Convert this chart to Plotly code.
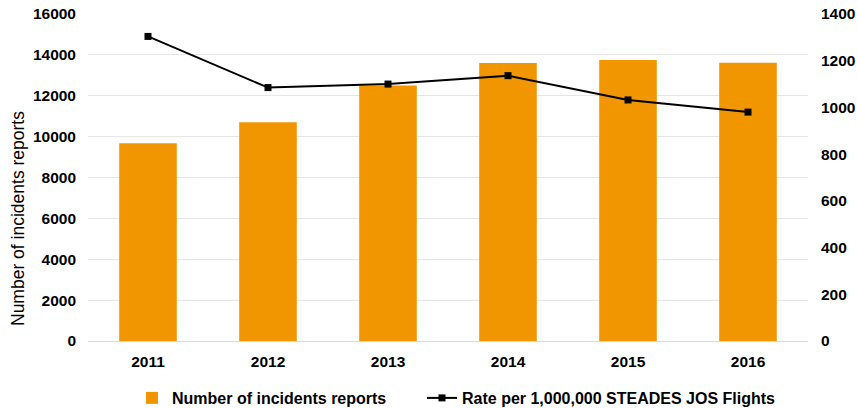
import plotly.graph_objects as go

years = ["2011", "2012", "2013", "2014", "2015", "2016"]
incidents = [9680, 10700, 12500, 13600, 13750, 13620]
rate = [1304, 1085, 1100, 1136, 1032, 980]

ORANGE = "#F29600"
FONT = "Liberation Sans, Arial, sans-serif"
W, H = 858, 408

fig = go.Figure()
fig.add_trace(go.Bar(
    x=years, y=incidents, name="Number of incidents reports",
    marker=dict(color=ORANGE, line=dict(width=0)),
    yaxis="y", legend="legend",
))
fig.add_trace(go.Scatter(
    x=years, y=rate, name="Rate per 1,000,000 STEADES JOS Flights",
    mode="lines+markers",
    line=dict(color="#000000", width=2),
    marker=dict(symbol="square", size=7, color="#000000"),
    yaxis="y2", legend="legend2",
))

tickfont = dict(family=FONT, size=15.5, color="#000000", weight="bold")
legfont = dict(family=FONT, size=16, color="#000000", weight="bold")

fig.update_layout(
    width=W, height=H,
    margin=dict(l=88, r=50, t=14, b=67, autoexpand=False),
    paper_bgcolor="white", plot_bgcolor="white",
    font=dict(family=FONT, size=14, color="#000000"),
    bargap=0.52,
    showlegend=True,
    legend=dict(
        orientation="h",
        xref="container", x=132 / W, xanchor="left",
        yref="container", y=1 - 398 / H, yanchor="middle",
        font=legfont, itemwidth=30,
    ),
    legend2=dict(
        orientation="h",
        xref="container", x=422 / W, xanchor="left",
        yref="container", y=1 - 398 / H, yanchor="middle",
        font=legfont, itemwidth=30,
    ),
    xaxis=dict(
        type="category", automargin=False,
        showgrid=False, showline=True, linecolor="#D9D9D9", linewidth=1,
        ticks="", tickfont=tickfont, ticklabelstandoff=6,
    ),
    yaxis=dict(
        range=[0, 16000], dtick=2000, tickformat="d", automargin=False,
        showgrid=True, gridcolor="#E6E6E6", gridwidth=1,
        zeroline=False, showline=False, ticks="",
        tickfont=tickfont, ticklabelstandoff=11,
    ),
    yaxis2=dict(
        overlaying="y", side="right", automargin=False,
        range=[0, 1400], dtick=200, tickformat="d",
        showgrid=False, zeroline=False, showline=False, ticks="",
        tickfont=tickfont, ticklabelstandoff=12,
    ),
    annotations=[dict(
        text="Number of incidents reports",
        xref="paper", yref="paper",
        x=(18 - 88) / (W - 88 - 50), y=(H - 67 - 219) / (H - 14 - 67),
        xanchor="center", yanchor="middle", textangle=-90, showarrow=False,
        font=dict(family=FONT, size=17.5, color="#000000"),
    )],
)

fig.write_html(
    "out.html",
    config={"displayModeBar": False},
    post_script="document.body.style.margin='0px';document.body.style.overflow='hidden';",
)
